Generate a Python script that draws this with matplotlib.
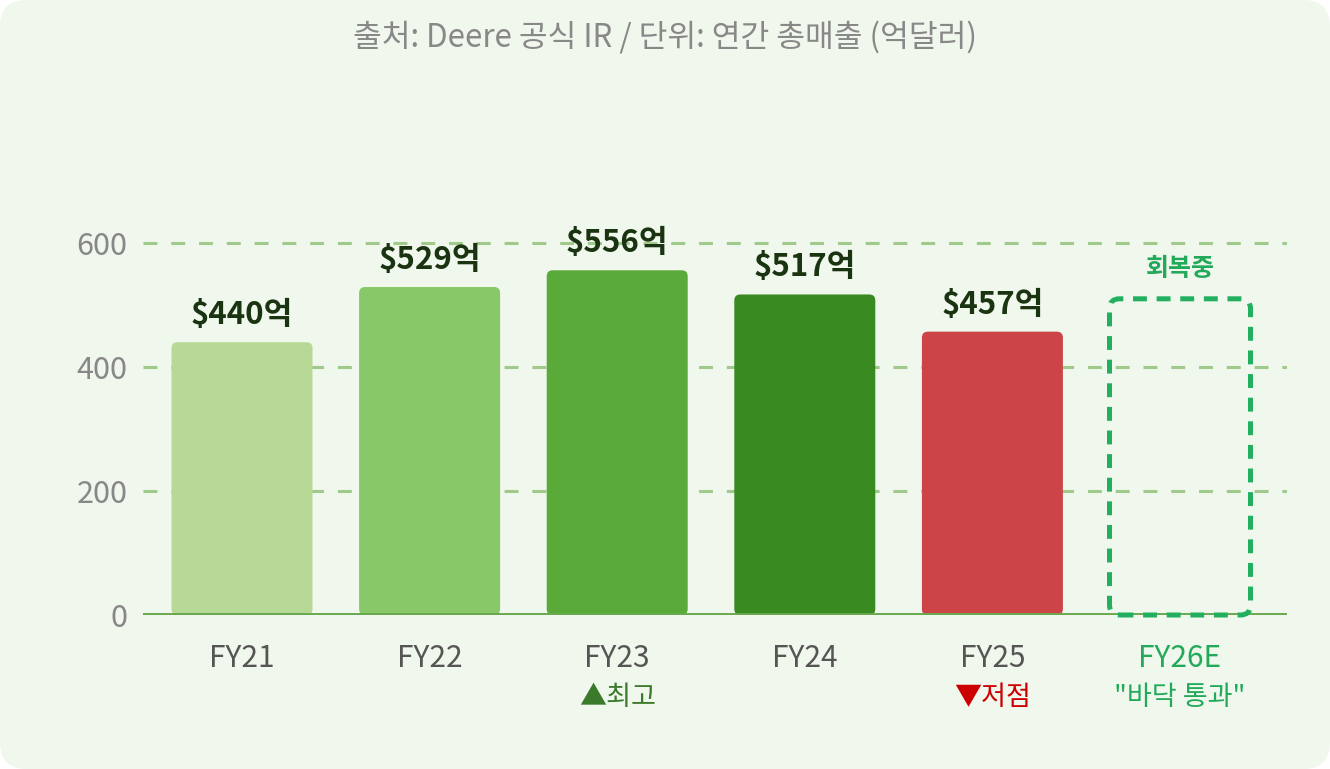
import matplotlib
matplotlib.use("Agg")
import matplotlib.pyplot as plt
from matplotlib.patches import FancyBboxPatch

plt.rcParams['font.family'] = ['Noto Sans CJK KR', 'DejaVu Sans']
plt.rcParams['lines.scale_dashes'] = False

# data (억달러)
years = ['FY21', 'FY22', 'FY23', 'FY24', 'FY25', 'FY26E']
sales = [440, 529, 556, 517, 457]
fy26_box = 510  # placeholder height for the estimate outline
value_labels = ['$440억', '$529억', '$556억', '$517억', '$457억']
bar_colors = ['#b8d896', '#88c868', '#5aaa3a', '#3a8a22', '#cc4447']
sub_labels = ['', '', '▲최고', '', '▼저점', '"바닥 통과"']
sub_colors = ['#555555', '#555555', '#3a7a2a', '#555555', '#cc0000', '#22aa5a']
yticks = [0, 200, 400, 600]

W, H = 1330, 769
fig = plt.figure(figsize=(W / 100, H / 100), dpi=100)
fig.patch.set_facecolor('white')
card = FancyBboxPatch((0, 0), 1, 1, boxstyle='round,pad=0,rounding_size=0.02',
                      transform=fig.transFigure, fc='#f0f7ec', ec='none',
                      mutation_aspect=W / H, zorder=-5)
fig.patches.append(card)

ax_l, ax_r, ax_b, ymax = 143, 1287, 615, 700
px_per_unit = 0.62
ax_h = ymax * px_per_unit
ax = fig.add_axes([ax_l / W, (H - ax_b) / H, (ax_r - ax_l) / W, ax_h / H])
ax.set_facecolor('none')
x_unit_px = 187.6
ax.set_xlim(-(242 - ax_l) / x_unit_px, 5 + (ax_r - 1180) / x_unit_px)
ax.set_ylim(0, ymax)

# rounded bars
bw = 141 / x_unit_px
aspect = (1 / px_per_unit) / (1 / x_unit_px)
for i, (v, c) in enumerate(zip(sales, bar_colors)):
    p = FancyBboxPatch((i - bw / 2, 0), bw, v,
                       boxstyle='round,pad=0,rounding_size=%f' % (6 / x_unit_px),
                       mutation_aspect=aspect, fc=c, ec='none', zorder=3)
    ax.add_patch(p)
    ax.annotate(value_labels[i], xy=(i, v), xytext=(0, 8), textcoords='offset points',
                ha='center', va='bottom', fontsize=22.5, fontweight='bold',
                color='#1a3310', zorder=5)

# estimate outline (drawn over the baseline)
i6 = len(sales)
est = FancyBboxPatch((i6 - bw / 2, 0), bw, fy26_box,
                     boxstyle='round,pad=0,rounding_size=%f' % (10 / x_unit_px),
                     mutation_aspect=aspect, fc='none', ec='#22b060', lw=3.6,
                     linestyle=(0, (10, 7)), zorder=7, clip_on=False)
ax.add_patch(est)
ax.annotate('회복중', xy=(i6, fy26_box), xytext=(0, 13), textcoords='offset points',
            ha='center', va='bottom', fontsize=18, fontweight='bold', color='#22aa5a')

# grid and baseline
for t in yticks[1:]:
    ax.axhline(t, color='#a0c98c', lw=2.2, linestyle=(0, (10, 10)), zorder=1)
ax.axhline(0, color='#6aa84f', lw=2.8, zorder=6)

for s in ax.spines.values():
    s.set_visible(False)
ax.set_yticks(yticks)
ax.set_yticklabels([str(t) for t in yticks], fontsize=22, color='#888888')
ax.tick_params(axis='y', length=0, pad=11)
ax.set_xticks(range(len(years)))
ax.set_xticklabels([])
ax.tick_params(axis='x', length=0)

for i, y in enumerate(years):
    ax.annotate(y, xy=(i, 0), xytext=(0, -31), textcoords='offset points',
                ha='center', va='center', fontsize=21.5,
                color='#22aa5a' if i == 5 else '#555555')
    if sub_labels[i]:
        ax.annotate(sub_labels[i], xy=(i, 0), xytext=(0, -59.5), textcoords='offset points',
                    ha='center', va='center', fontsize=19.5, color=sub_colors[i])

fig.text(0.5, 1 - 37 / H, '출처: Deere 공식 IR / 단위: 연간 총매출 (억달러)',
         ha='center', va='center', fontsize=22.5, color='#888888')

fig.savefig('out.png', dpi=100, facecolor=fig.get_facecolor())
